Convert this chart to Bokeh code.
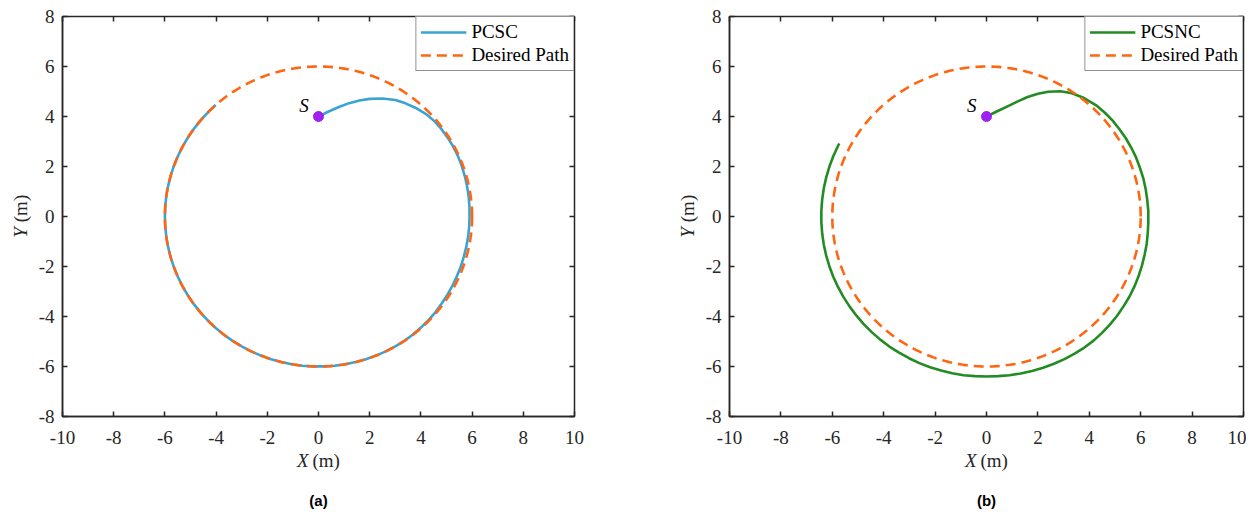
import numpy as np
from bokeh.plotting import figure
from bokeh.layouts import row
from bokeh.models import FixedTicker, LinearAxis, Label, Range1d
from bokeh.embed import file_html
from bokeh.resources import INLINE

# ---------------- data ----------------
X_TICKS = [-10, -8, -6, -4, -2, 0, 2, 4, 6, 8, 10]
Y_TICKS = [-8, -6, -4, -2, 0, 2, 4, 6, 8]
START_X = [0.0]
START_Y = [4.0]
DESIRED_R = 6.0

# trajectories: angle (deg), radius (m)
PCSC_THETA = [90, 84.6, 79.7, 75.2, 71.0, 67.0, 62.1, 57.2, 53.1, 48.8, 44.3,
              40, 36, 32, 28, 24, 20, 16, 12, 8, 4, 0,
              -4, -8, -12, -16, -20, -24, -28, -32, -36, -40, -44, -48,
              -52, -56, -60, -64, -68, -72, -76, -80, -84, -88,
              -92, -96, -100, -104, -108, -112, -116, -120, -124, -128,
              -132, -136, -140, -144, -148, -152, -156, -160, -164, -168,
              -172, -176, -180, -184, -188, -192, -196, -200, -204, -208,
              -212, -216, -220, -224, -228]
PCSC_R = [4.00, 4.22, 4.45, 4.69, 4.91, 5.11, 5.34, 5.54, 5.66, 5.77, 5.87,
          5.92, 5.94, 5.95, 5.96, 5.96, 5.95, 5.94, 5.93, 5.92, 5.91, 5.90,
          5.90, 5.90, 5.90, 5.90, 5.91, 5.91, 5.92, 5.93, 5.94, 5.96, 5.97, 5.98,
          5.99, 6.00, 6.00, 6.00, 6.00, 6.00, 6.00, 6.00, 6.00, 6.00,
          6.00, 6.00, 6.00, 6.00, 6.00, 6.00, 6.00, 6.00, 6.00, 6.00,
          6.00, 6.00, 6.00, 6.00, 6.00, 6.00, 6.00, 6.00, 6.00, 6.00,
          6.00, 6.00, 6.00, 6.00, 6.00, 6.00, 6.00, 6.00, 6.00, 6.00,
          6.00, 6.00, 6.00, 6.00, 6.00]

PCSNC_THETA = [90, 84.6, 79.7, 75.4, 71.5, 67.8, 64.3, 60.1, 56.0, 51.3, 45.8,
               42, 38, 34, 30, 26, 22, 18, 14, 10, 6, 2,
               -2, -6, -10, -14, -18, -22, -26, -30, -34, -38,
               -42, -46, -50, -54, -58, -62, -66, -70, -74, -78,
               -82, -86, -90, -94, -98, -102, -106, -110, -114, -118,
               -122, -126, -130, -134, -138, -142, -146, -150, -154, -158,
               -162, -166, -170, -174, -178, -182, -186, -190, -194, -198,
               -202, -206, -207]
PCSNC_R = [4.00, 4.22, 4.47, 4.75, 5.04, 5.30, 5.54, 5.78, 5.95, 6.07, 6.17,
           6.20, 6.23, 6.24, 6.26, 6.27, 6.28, 6.28, 6.29, 6.29, 6.29, 6.30,
           6.30, 6.31, 6.33, 6.34, 6.36, 6.38, 6.40, 6.42, 6.43, 6.45,
           6.46, 6.47, 6.48, 6.48, 6.47, 6.46, 6.45, 6.44, 6.43, 6.42,
           6.41, 6.40, 6.40, 6.40, 6.41, 6.41, 6.41, 6.42, 6.42, 6.42,
           6.42, 6.43, 6.43, 6.43, 6.43, 6.43, 6.43, 6.43, 6.43, 6.43,
           6.43, 6.43, 6.43, 6.43, 6.43, 6.43, 6.43, 6.43, 6.43, 6.43,
           6.43, 6.43, 6.43]

SERIES = [
    ("PCSC", PCSC_THETA, PCSC_R, "#3AA3D3", "(a)"),
    ("PCSNC", PCSNC_THETA, PCSNC_R, "#228B22", "(b)"),
]

SERIF = "Liberation Serif"
DARK = "#262626"
ORANGE = "#FF6611"
PURPLE = "#A020F0"
FRAME_H = 400


def make_panel(name, theta, rad, color, tag, border_left, border_right, frame_w, m_side):
    p = figure(output_backend="svg", toolbar_location=None,
               frame_width=frame_w, frame_height=FRAME_H,
               min_border_left=border_left, min_border_right=border_right,
               min_border_top=16, min_border_bottom=94,
               x_range=Range1d(-10, 10), y_range=Range1d(-8, 8),
               background_fill_color="white", border_fill_color="white")
    p.grid.visible = False
    p.outline_line_color = DARK
    p.outline_line_width = 1.5

    for ax, ticks in ((p.xaxis[0], X_TICKS), (p.yaxis[0], Y_TICKS)):
        ax.ticker = FixedTicker(ticks=ticks)
        ax.major_label_overrides = {v: str(v) for v in ticks}
        ax.major_tick_in = 5
        ax.major_tick_out = 0
        ax.minor_tick_line_color = None
        ax.axis_line_color = DARK
        ax.axis_line_width = 1.5
        ax.major_tick_line_color = DARK
        ax.major_tick_line_width = 1.5
        ax.major_label_text_font = SERIF
        ax.major_label_text_font_size = "19px"
        ax.major_label_text_color = DARK
    p.xaxis[0].major_label_standoff = 14
    p.yaxis[0].major_label_standoff = 8

    for loc, ticks in (("above", X_TICKS), ("right", Y_TICKS)):
        m = LinearAxis(ticker=FixedTicker(ticks=ticks), major_tick_in=5, major_tick_out=0,
                       minor_tick_line_color=None, axis_line_color=None,
                       major_tick_line_color=DARK, major_tick_line_width=1.5,
                       major_label_text_color=None, major_label_text_font_size="1px",
                       major_label_standoff=0)
        p.add_layout(m, loc)

    assert len(theta) == len(rad)
    t = np.deg2rad(np.asarray(theta, dtype=float))
    r = np.asarray(rad, dtype=float)
    p.line(r * np.cos(t), r * np.sin(t), line_color=color, line_width=2.6,
           line_join="round", legend_label=name)
    th = np.linspace(0, 2 * np.pi, 400)
    p.line(DESIRED_R * np.cos(th), DESIRED_R * np.sin(th), line_color=ORANGE,
           line_width=2.6, line_dash="10 6", legend_label="Desired Path")
    p.scatter(START_X, START_Y, size=10, color=PURPLE)
    p.add_layout(Label(x=-0.57, y=4.44, text="S", text_font=SERIF, text_font_style="italic",
                       text_font_size="19px", text_align="center", text_baseline="middle",
                       text_color="black"))

    # axis labels and caption: labels hosted in side panels, positioned in data coordinates
    kx = dict(text_font=SERIF, text_font_size="19px", text_color=DARK,
              text_align="center", text_baseline="middle")
    p.add_layout(Label(x=-0.61, y=-9.76, text="X", text_font_style="italic", **kx), "below")
    p.add_layout(Label(x=0.30, y=-9.76, text="(m)", **kx), "below")
    p.add_layout(Label(x=-11.64, y=-0.64, text="Y", text_font_style="italic",
                       angle=np.pi / 2, **kx), "left")
    p.add_layout(Label(x=-11.64, y=0.32, text="(m)", angle=np.pi / 2, **kx), m_side)
    p.add_layout(Label(x=0, y=-11.36, text=tag, text_font="Liberation Sans",
                       text_font_style="bold", text_font_size="15px", text_color="black",
                       text_align="center", text_baseline="middle"), "below")

    lg = p.legend[0]
    lg.location = "top_right"
    lg.margin = 0
    lg.padding = 4
    lg.spacing = 1
    lg.glyph_width = 46
    lg.glyph_height = 20
    lg.label_height = 20
    lg.label_standoff = 5
    lg.label_text_font = SERIF
    lg.label_text_font_size = "19px"
    lg.label_text_color = "black"
    lg.border_line_color = DARK
    lg.border_line_width = 1
    lg.background_fill_alpha = 1.0
    return p


p1 = make_panel(*SERIES[0], border_left=62, border_right=40, frame_w=512, m_side="right")
p2 = make_panel(*SERIES[1], border_left=115, border_right=3, frame_w=514, m_side="left")

layout = row(p1, p2)
open("out.html", "w").write(file_html(layout, INLINE))
